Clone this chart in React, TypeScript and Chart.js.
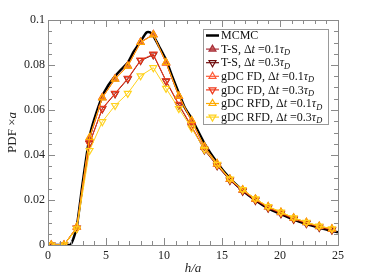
import React, { useEffect, useRef } from "react";
import { Chart, registerables } from "chart.js";
Chart.register(...registerables);

// ---- data ----
const xSim = [0.28, 1.38, 2.48, 3.58, 4.68, 5.78, 6.88, 7.98, 9.08, 10.18, 11.28, 12.38, 13.48, 14.58, 15.68, 16.78, 17.88, 18.98, 20.08, 21.18, 22.28, 23.38, 24.48];
const mcmcX = [0, 1.9, 2.2, 2.48, 3.0, 3.58, 4.0, 4.68, 5.2, 5.78, 6.3, 6.88, 7.4, 7.98, 8.5, 8.8, 9.08, 9.6, 10.18, 10.7, 11.28, 11.8, 12.38, 13.48, 14.58, 15.68, 16.78, 17.88, 18.98, 20.08, 21.18, 22.28, 23.38, 24.48, 25];
const mcmcY = [0, 0, 0.003, 0.008, 0.028, 0.048, 0.056, 0.066, 0.071, 0.075, 0.078, 0.081, 0.086, 0.0905, 0.0945, 0.0945, 0.093, 0.088, 0.0822, 0.075, 0.0675, 0.061, 0.0562, 0.0452, 0.0366, 0.0296, 0.0242, 0.0199, 0.0163, 0.0137, 0.0113, 0.0093, 0.0077, 0.0063, 0.0056];
const ts01 = [0, 0, 0.008, 0.047, 0.0655, 0.0738, 0.0796, 0.0901, 0.0935, 0.081, 0.066, 0.0552, 0.0435, 0.036, 0.0292, 0.0244, 0.0203, 0.0169, 0.0144, 0.0119, 0.0099, 0.0082, 0.007];
const ts03 = [0, 0, 0.0074, 0.0452, 0.0605, 0.0672, 0.0738, 0.082, 0.0845, 0.0728, 0.0622, 0.0525, 0.0422, 0.0352, 0.0287, 0.0239, 0.0198, 0.0164, 0.0139, 0.0114, 0.0095, 0.0078, 0.0066];
const fd01 = [0, 0, 0.0079, 0.0475, 0.0656, 0.0739, 0.0797, 0.0902, 0.0936, 0.0808, 0.0661, 0.0551, 0.0436, 0.0361, 0.0293, 0.0245, 0.0204, 0.017, 0.0145, 0.012, 0.01, 0.0083, 0.0071];
const fd03 = [0, 0, 0.0075, 0.045, 0.0607, 0.0674, 0.0741, 0.0822, 0.0848, 0.073, 0.0625, 0.0528, 0.0425, 0.0355, 0.029, 0.0242, 0.0201, 0.0167, 0.0142, 0.0117, 0.0098, 0.0081, 0.0069];
const rfd01 = [0, 0, 0.008, 0.0478, 0.0654, 0.0737, 0.0795, 0.09, 0.0934, 0.0812, 0.0663, 0.0554, 0.0438, 0.0362, 0.0294, 0.0246, 0.0205, 0.0171, 0.0146, 0.0121, 0.0101, 0.0084, 0.0072];
const rfd03 = [0, 0, 0.0072, 0.042, 0.0548, 0.062, 0.0674, 0.0752, 0.0788, 0.0696, 0.0606, 0.052, 0.0425, 0.0358, 0.0293, 0.0246, 0.0205, 0.0171, 0.0146, 0.0121, 0.0101, 0.0084, 0.0072];

const xTicks = [0, 5, 10, 15, 20, 25];
const yTicks = [0, 0.02, 0.04, 0.06, 0.08, 0.1];
const yTickLabels = ["0", "0.02", "0.04", "0.06", "0.08", "0.1"];

const seriesNames = ["T-S, ", "T-S, ", "gDC FD, ", "gDC FD, ", "gDC RFD, ", "gDC RFD, "];
const seriesDt = ["0.1", "0.3", "0.1", "0.3", "0.1", "0.3"];

const FONT = "'Liberation Serif', 'DejaVu Serif', serif";

const pts = (xs: number[], ys: number[]) => xs.map((x, i) => ({ x, y: ys[i] }));

type Seg = { t: string; it?: boolean; sub?: boolean };

function drawSegs(ctx: CanvasRenderingContext2D, segs: Seg[], x: number, y: number, size: number) {
  let cx = x;
  for (const s of segs) {
    const sz = s.sub ? size * 0.7 : size;
    ctx.font = `${s.it ? "italic " : ""}${sz}px ${FONT}`;
    ctx.fillText(s.t, cx, s.sub ? y + size * 0.28 : y);
    cx += ctx.measureText(s.t).width;
  }
  return cx - x;
}
function segsWidth(ctx: CanvasRenderingContext2D, segs: Seg[], size: number) {
  let w = 0;
  for (const s of segs) {
    const sz = s.sub ? size * 0.7 : size;
    ctx.font = `${s.it ? "italic " : ""}${sz}px ${FONT}`;
    w += ctx.measureText(s.t).width;
  }
  return w;
}

function drawTri(ctx: CanvasRenderingContext2D, x: number, y: number, r: number, down: boolean, stroke: string, fill: string) {
  ctx.save();
  ctx.beginPath();
  const s = down ? -1 : 1;
  ctx.moveTo(x, y - s * r);
  ctx.lineTo(x - r * 0.866, y + s * r * 0.5);
  ctx.lineTo(x + r * 0.866, y + s * r * 0.5);
  ctx.closePath();
  ctx.fillStyle = fill;
  ctx.fill();
  ctx.strokeStyle = stroke;
  ctx.lineWidth = 1.2;
  ctx.stroke();
  ctx.restore();
}

const colors = ["#a8303a", "#6e0a0a", "#ff5a36", "#ee3a1c", "#ffab00", "#ffd21e"];
const fills = ["rgba(190,60,60,0.75)", "rgba(0,0,0,0)", "rgba(0,0,0,0)", "rgba(0,0,0,0)", "rgba(0,0,0,0)", "rgba(0,0,0,0)"];
const downs = [false, true, false, true, false, true];

const decorPlugin = {
  id: "decor",
  afterDraw(chart: any) {
    const ctx: CanvasRenderingContext2D = chart.ctx;
    const { left, right, top, bottom } = chart.chartArea;
    const xs = chart.scales.x;
    const ys = chart.scales.y;
    ctx.save();
    // frame
    ctx.strokeStyle = "#8a8a8a";
    ctx.lineWidth = 1;
    ctx.strokeRect(Math.round(left) + 0.5, Math.round(top) + 0.5, Math.round(right - left), Math.round(bottom - top));
    // x ticks
    ctx.beginPath();
    for (let v = 0; v <= 25; v += 1) {
      const px = Math.round(xs.getPixelForValue(v)) + 0.5;
      const len = v % 5 === 0 ? 7 : 4;
      ctx.moveTo(px, bottom);
      ctx.lineTo(px, bottom - len);
      ctx.moveTo(px, top);
      ctx.lineTo(px, top + len);
    }
    for (let k = 0; k <= 20; k++) {
      const v = k * 0.005;
      const py = Math.round(ys.getPixelForValue(v)) + 0.5;
      const len = k % 4 === 0 ? 7 : 4;
      ctx.moveTo(left, py);
      ctx.lineTo(left + len, py);
      ctx.moveTo(right, py);
      ctx.lineTo(right - len, py);
    }
    ctx.stroke();
    // tick labels
    ctx.fillStyle = "#222";
    ctx.font = `12px ${FONT}`;
    ctx.textAlign = "center";
    ctx.textBaseline = "middle";
    xTicks.forEach((v) => ctx.fillText(String(v), xs.getPixelForValue(v), bottom + 11));
    ctx.textAlign = "right";
    yTicks.forEach((v, i) => ctx.fillText(yTickLabels[i], left - 3, ys.getPixelForValue(v)));
    // axis titles
    ctx.textAlign = "left";
    const xt: Seg[] = [{ t: "h/a", it: true }];
    const xw = segsWidth(ctx, xt, 13);
    drawSegs(ctx, xt, (left + right) / 2 - xw / 2, 269, 13);
    ctx.save();
    ctx.translate(13, (top + bottom) / 2);
    ctx.rotate(-Math.PI / 2);
    const yt: Seg[] = [{ t: "PDF ×" }, { t: "a", it: true }];
    const yw = segsWidth(ctx, yt, 13);
    drawSegs(ctx, yt, -yw / 2, 0, 13);
    ctx.restore();
    // legend
    const bx = 203, by = 29, bw = 125, bh = 95;
    ctx.fillStyle = "#fff";
    ctx.fillRect(bx, by, bw, bh);
    ctx.strokeStyle = "#999";
    ctx.strokeRect(bx + 0.5, by + 0.5, bw, bh);
    const rowY = (i: number) => 35.5 + i * 13.6;
    const lx0 = 206, lx1 = 219, tx = 221;
    ctx.fillStyle = "#111";
    // MCMC
    ctx.beginPath();
    ctx.strokeStyle = "#000";
    ctx.lineWidth = 2.5;
    ctx.moveTo(lx0, rowY(0));
    ctx.lineTo(lx1, rowY(0));
    ctx.stroke();
    drawSegs(ctx, [{ t: "MCMC" }], tx, rowY(0) + 0.5, 12);
    for (let i = 0; i < 6; i++) {
      const y = rowY(i + 1);
      ctx.beginPath();
      ctx.strokeStyle = colors[i];
      ctx.lineWidth = 1.2;
      ctx.moveTo(lx0, y);
      ctx.lineTo(lx1, y);
      ctx.stroke();
      drawTri(ctx, (lx0 + lx1) / 2, y, 4, downs[i], colors[i], fills[i]);
      ctx.fillStyle = "#111";
      drawSegs(ctx, [
        { t: seriesNames[i] + "Δ" },
        { t: "t", it: true },
        { t: " =" + seriesDt[i] },
        { t: "τ", it: true },
        { t: "D", it: true, sub: true },
      ], tx, y + 0.5, 12);
    }
    ctx.restore();
  },
};

export default function App() {
  const ref = useRef<HTMLCanvasElement>(null);
  useEffect(() => {
    if (!ref.current) return;
    const mk = (i: number, ys: number[], order: number) => ({
      data: pts(xSim, ys),
      borderColor: colors[i],
      borderWidth: 1,
      pointStyle: "triangle",
      pointRotation: downs[i] ? 180 : 0,
      pointRadius: 4,
      pointBorderWidth: 1.2,
      pointBorderColor: colors[i],
      pointBackgroundColor: fills[i],
      tension: 0,
      order,
    });
    const chart = new Chart(ref.current, {
      type: "line",
      data: {
        datasets: [
          { data: pts(mcmcX, mcmcY), borderColor: "#000", borderWidth: 2.5, pointRadius: 0, tension: 0.2, order: 10 } as any,
          mk(0, ts01, 6),
          mk(1, ts03, 5),
          mk(2, fd01, 4),
          mk(3, fd03, 3),
          mk(4, rfd01, 2),
          mk(5, rfd03, 1),
        ],
      },
      options: {
        animation: false,
        responsive: false,
        maintainAspectRatio: false,
        layout: { padding: { left: 48, right: 36, top: 20, bottom: 35 } },
        plugins: { legend: { display: false }, tooltip: { enabled: false } },
        scales: {
          x: { type: "linear", min: 0, max: 25, display: false },
          y: { type: "linear", min: 0, max: 0.1, display: false },
        },
      } as any,
      plugins: [decorPlugin],
    });
    return () => chart.destroy();
  }, []);
  return (
    <div style={{ position: "fixed", left: 0, top: 0, width: 374, height: 280, background: "#fff" }}>
      <canvas ref={ref} width={374} height={280} style={{ width: 374, height: 280 }} />
    </div>
  );
}
